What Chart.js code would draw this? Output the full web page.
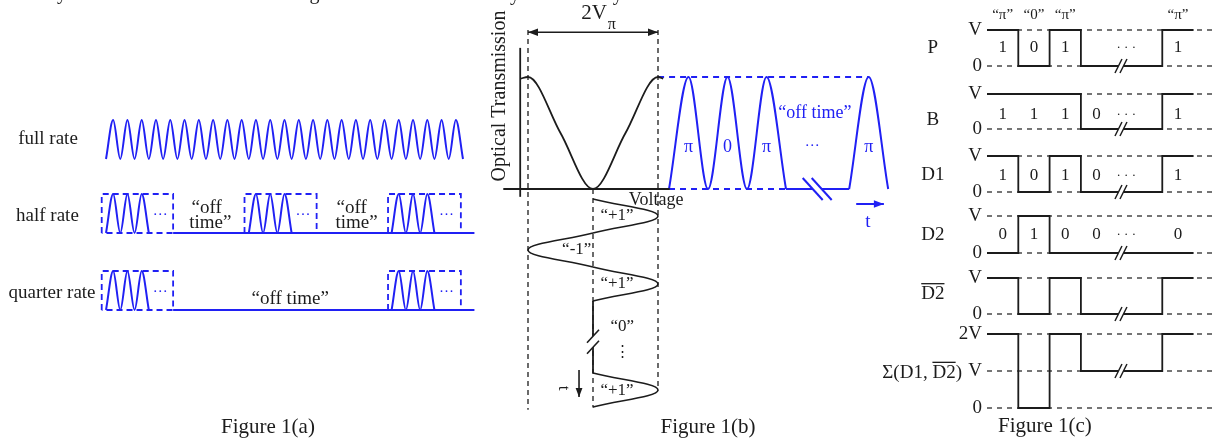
<!DOCTYPE html>
<html>
<head>
<meta charset="utf-8">
<title>Figure 1</title>
<script src="https://cdn.jsdelivr.net/npm/chart.js@4.4.1/dist/chart.umd.min.js"></script>
<style>
  html, body { margin: 0; padding: 0; background: #fff; }
  body { width: 1214px; height: 441px; position: relative; overflow: hidden; }
  canvas { position: absolute; top: 0; }
</style>
</head>
<body>
<canvas id="panelA"></canvas>
<canvas id="panelB"></canvas>
<canvas id="panelC"></canvas>
<script>
// ---------- values ----------

// Figure 1(a): pulse start times, in bit periods
const fullRatePulses = [0, 1, 2, 3, 4, 5, 6, 7, 8, 9, 10, 11, 12, 13, 14, 15, 16, 17, 18, 19, 20, 21, 22, 23, 24];
const halfRatePulses = [0, 1, 2, 10, 11, 12, 20, 21, 22];
const quarterRatePulses = [0, 1, 2, 20, 21, 22];
const halfRateWindows = [[-0.3, 4.7], [9.7, 14.75], [19.75, 24.85]];
const quarterRateWindows = [[-0.3, 4.7], [19.75, 24.85]];
const baselineSpan = [4.7, 25.8];

// Figure 1(b): modulator transfer curve (voltage in units of Vpi)
const transferVolts = [-1.12, -1, -0.5, 0, 0.5, 1, 1.08];
const transferLevels = [0.985, 1, 0.5, 0, 0.5, 1, 0.985];
// optical output pulses (time in pulse slots)
const outputPulses = [0, 1, 2, 4.62];
const outputPhases = ["π", "0", "π", "π"];
// drive voltage, time running downwards
const driveSlots = [0, 1, 2, 3, 5.12];
const driveSymbols = [1, -1, 1, 0, 1];
const driveLabels = ["“+1”", "“-1”", "“+1”", "“0”", "“+1”"];

// Figure 1(c): slot edges and levels of every trace
const slotEdges = [0, 1, 2, 3, 5.6, 6.6];
const phaseMarks = ["“π”", "“0”", "“π”", "", "“π”"];
const levelsP = [1, 0, 1, 0, 1];
const levelsB = [1, 1, 1, 0, 1];
const levelsD1 = [1, 0, 1, 0, 1];
const levelsD2 = [0, 1, 0, 0, 0];
const levelsD2bar = [1, 0, 1, 0, 1];
const levelsSum = [2, 0, 2, 1, 2];
const bitsP = ["1", "0", "1", "", "1"];
const bitsB = ["1", "1", "1", "0", "1"];
const bitsD1 = ["1", "0", "1", "0", "1"];
const bitsD2 = ["0", "1", "0", "0", "0"];

// ---------- drawing setup ----------
const FONT = "'Liberation Serif', 'Times New Roman', serif";
const BLUE = "#2020f4";
const INK = "#1c1c1c";
const PAGE_H = 441;

// scale range so that value v0 lands on pixel p0 and v1 on p1
function fit(v0, p0, v1, p1, start, end) {
  const k = (p1 - p0) / (v1 - v0);
  const a = v0 + (start - p0) / k;
  const b = v0 + (end - p0) / k;
  return { min: Math.min(a, b), max: Math.max(a, b) };
}

function scale(axis, range, extra) {
  return Object.assign({ type: "linear", axis: axis, display: false, bounds: "data", min: range.min, max: range.max }, extra);
}

function line(points, xAxisID, yAxisID, style) {
  return Object.assign({
    data: points, xAxisID: xAxisID, yAxisID: yAxisID,
    pointRadius: 0, borderWidth: 1.6, borderColor: INK, fill: false, tension: 0, clip: false
  }, style);
}

// back-to-back pulses are joined into one run
function pulseRuns(starts) {
  const runs = [];
  starts.forEach((s) => {
    const run = runs[runs.length - 1];
    if (run && Math.abs(run.end - s) < 1e-6) {
      run.pts.push({ x: s + 0.5, y: 1 }, { x: s + 1, y: 0 });
      run.end = s + 1;
    } else {
      runs.push({ end: s + 1, pts: [{ x: s, y: 0 }, { x: s + 0.5, y: 1 }, { x: s + 1, y: 0 }] });
    }
  });
  return runs.map((r) => r.pts);
}

function box(w) {
  return [{ x: w[0], y: 0 }, { x: w[0], y: 1 }, { x: w[1], y: 1 }, { x: w[1], y: 0 }, { x: w[0], y: 0 }];
}

const decor = {};

function arrowHead(ctx, x1, y1, x2, y2, size) {
  const a = Math.atan2(y2 - y1, x2 - x1);
  ctx.beginPath();
  ctx.moveTo(x2, y2);
  ctx.lineTo(x2 - size * Math.cos(a) - size * 0.38 * Math.sin(a), y2 - size * Math.sin(a) + size * 0.38 * Math.cos(a));
  ctx.lineTo(x2 - size * Math.cos(a) + size * 0.38 * Math.sin(a), y2 - size * Math.sin(a) - size * 0.38 * Math.cos(a));
  ctx.closePath();
  ctx.fill();
}

const decorPlugin = {
  id: "decor",
  afterDatasetsDraw(chart) {
    const d = decor[chart.canvas.id];
    if (!d) return;
    const ctx = chart.ctx;
    const at = (o, x, y) => [chart.scales[o.xAxis].getPixelForValue(x), chart.scales[o.yAxis].getPixelForValue(y)];

    // axis breaks: two parallel strokes with the line cleared between them
    (d.breaks || []).forEach((b) => {
      const [cx, cy] = at(b, b.x, b.y);
      const ox = b.dir === "h" ? b.gap / 2 : 0;
      const oy = b.dir === "h" ? 0 : b.gap / 2;
      const s1 = [[cx - ox - b.dx, cy - oy - b.dy], [cx - ox + b.dx, cy - oy + b.dy]];
      const s2 = [[cx + ox - b.dx, cy + oy - b.dy], [cx + ox + b.dx, cy + oy + b.dy]];
      ctx.save();
      ctx.fillStyle = "#fff";
      ctx.beginPath();
      ctx.moveTo(s1[0][0], s1[0][1]);
      ctx.lineTo(s1[1][0], s1[1][1]);
      ctx.lineTo(s2[1][0], s2[1][1]);
      ctx.lineTo(s2[0][0], s2[0][1]);
      ctx.closePath();
      ctx.fill();
      ctx.strokeStyle = b.color;
      ctx.lineWidth = b.width;
      [s1, s2].forEach((s) => {
        ctx.beginPath();
        ctx.moveTo(s[0][0], s[0][1]);
        ctx.lineTo(s[1][0], s[1][1]);
        ctx.stroke();
      });
      ctx.restore();
    });

    (d.arrows || []).forEach((a) => {
      const [x1, y1] = at(a, a.x1, a.y1);
      const [x2, y2] = at(a, a.x2, a.y2);
      ctx.save();
      ctx.strokeStyle = a.color;
      ctx.fillStyle = a.color;
      ctx.lineWidth = a.width;
      ctx.beginPath();
      ctx.moveTo(x1, y1);
      ctx.lineTo(x2, y2);
      ctx.stroke();
      arrowHead(ctx, x1, y1, x2, y2, a.size);
      if (a.both) arrowHead(ctx, x2, y2, x1, y1, a.size);
      ctx.restore();
    });

    (d.texts || []).forEach((t) => {
      const [x, y] = at(t, t.x, t.y);
      ctx.save();
      ctx.font = (t.size || 19) + "px " + FONT;
      ctx.fillStyle = t.color || INK;
      ctx.textAlign = t.align || "center";
      ctx.textBaseline = t.baseline || "middle";
      ctx.translate(x, y);
      if (t.rotate) ctx.rotate((t.rotate * Math.PI) / 180);
      ctx.fillText(t.text, 0, 0);
      if (t.over) {
        const w = ctx.measureText(t.text).width;
        const left = ctx.textAlign === "right" ? -w : ctx.textAlign === "center" ? -w / 2 : 0;
        const a = left + ctx.measureText(t.text.slice(0, t.over[0])).width;
        const b = left + ctx.measureText(t.text.slice(0, t.over[1])).width;
        const top = -ctx.measureText("D").actualBoundingBoxAscent - 2.5;
        ctx.strokeStyle = t.color || INK;
        ctx.lineWidth = 1.3;
        ctx.beginPath();
        ctx.moveTo(a, top);
        ctx.lineTo(b, top);
        ctx.stroke();
      }
      ctx.restore();
    });
  }
};

function makeChart(id, left, width, scales, datasets, notes) {
  const canvas = document.getElementById(id);
  canvas.width = width;
  canvas.height = PAGE_H;
  canvas.style.left = left + "px";
  decor[id] = notes;
  return new Chart(canvas, {
    type: "line",
    data: { datasets: datasets },
    options: {
      responsive: false,
      animation: false,
      devicePixelRatio: 1,
      events: [],
      layout: { autoPadding: false, padding: 0 },
      plugins: { legend: { display: false }, tooltip: { enabled: false } },
      scales: scales
    },
    plugins: [decorPlugin]
  });
}

// ---------- Figure 1(a) ----------
(function () {
  const L = 0, W = 480;
  const scales = {
    xa: scale("x", fit(0, 106, 25, 463, L, L + W)),
    yFull: scale("y", fit(0, 159, 1, 120, 0, PAGE_H)),
    yHalf: scale("y", fit(0, 233, 1, 194, 0, PAGE_H)),
    yQuarter: scale("y", fit(0, 310, 1, 271, 0, PAGE_H))
  };
  const wave = { borderColor: BLUE, borderWidth: 2, cubicInterpolationMode: "monotone" };
  const dashBox = { borderColor: BLUE, borderWidth: 1.8, borderDash: [6, 4] };
  const ds = [];
  pulseRuns(fullRatePulses).forEach((p) => ds.push(line(p, "xa", "yFull", wave)));
  [["yHalf", halfRatePulses, halfRateWindows], ["yQuarter", quarterRatePulses, quarterRateWindows]].forEach(([ax, pulses, wins]) => {
    pulseRuns(pulses).forEach((p) => ds.push(line(p, "xa", ax, wave)));
    wins.forEach((w) => ds.push(line(box(w), "xa", ax, dashBox)));
    ds.push(line([{ x: baselineSpan[0], y: 0 }, { x: baselineSpan[1], y: 0 }], "xa", ax, { borderColor: BLUE, borderWidth: 2 }));
  });

  const t = (text, x, y, yAxis, extra) => Object.assign({ text: text, x: x, y: y, xAxis: "xa", yAxis: yAxis }, extra);
  const texts = [
    t("full rate", -4.06, 0.5, "yFull"),
    t("half rate", -4.1, 0.44, "yHalf"),
    t("quarter rate", -3.78, 0.44, "yQuarter"),
    t("“off", 7.05, 0.64, "yHalf"),
    t("time”", 7.3, 0.26, "yHalf"),
    t("“off", 17.2, 0.64, "yHalf"),
    t("time”", 17.55, 0.26, "yHalf"),
    t("“off time”", 12.9, 0.28, "yQuarter"),
    t("Figure 1(a)", 11.34, -3.0, "yQuarter", { size: 21 }),
    t("y", -3.08, 4.09, "yFull", { baseline: "alphabetic", size: 20 }),
    t("g", 14.6, 4.09, "yFull", { baseline: "alphabetic", size: 20 })
  ];
  halfRateWindows.forEach((w) => texts.push(t("···", w[0] + 4.1, 0.46, "yHalf", { color: BLUE, size: 15 })));
  quarterRateWindows.forEach((w) => texts.push(t("···", w[0] + 4.1, 0.45, "yQuarter", { color: BLUE, size: 15 })));

  makeChart("panelA", L, W, scales, ds, { texts: texts });
})();

// ---------- Figure 1(b) ----------
(function () {
  const L = 480, W = 420;
  const scales = {
    xV: scale("x", fit(-1, 528, 1, 658, L, L + W)),
    xt: scale("x", fit(0, 669, 1, 708, L, L + W)),
    yT: scale("y", fit(0, 189, 1, 77, 0, PAGE_H)),
    yd: scale("y", fit(0, 199, 1, 233, 0, PAGE_H), { reverse: true })
  };
  const guide = { borderWidth: 1.3, borderDash: [5, 4] };
  const ds = [
    line([{ x: -1.12, y: -0.07 }, { x: -1.12, y: 1.26 }], "xV", "yT", { borderWidth: 1.8 }),
    line([{ x: -1.38, y: 0 }, { x: 1.18, y: 0 }], "xV", "yT", { borderWidth: 1.8 }),
    line([{ x: -1, y: 1.42 }, { x: -1, y: -1.97 }], "xV", "yT", guide),
    line([{ x: 1, y: 1.42 }, { x: 1, y: -1.8 }], "xV", "yT", guide),
    line([{ x: 0, y: 0 }, { x: 0, y: -1.95 }], "xV", "yT", guide),
    line(transferVolts.map((v, i) => ({ x: v, y: transferLevels[i] })), "xV", "yT", { borderWidth: 1.8, cubicInterpolationMode: "monotone" }),
    line([{ x: -0.28, y: 1 }, { x: 5.12, y: 1 }], "xt", "yT", { borderColor: BLUE, borderWidth: 1.8, borderDash: [6, 5] }),
    line([{ x: 0, y: 0 }, { x: 3, y: 0 }], "xt", "yT", { borderColor: BLUE, borderWidth: 1.8, borderDash: [6, 5] }),
    line([{ x: 3, y: 0 }, { x: outputPulses[3], y: 0 }], "xt", "yT", { borderColor: BLUE, borderWidth: 2 })
  ];
  pulseRuns(outputPulses).forEach((p) =>
    ds.push(line(p, "xt", "yT", { borderColor: BLUE, borderWidth: 2, cubicInterpolationMode: "monotone" }))
  );
  driveSymbols.forEach((s, i) => {
    const a = driveSlots[i];
    if (s === 0) {
      ds.push(line([{ x: 0, y: a }, { x: 0, y: driveSlots[i + 1] }], "xV", "yd", { borderWidth: 1.8 }));
    } else {
      ds.push(line([{ x: 0, y: a }, { x: s, y: a + 0.5 }, { x: 0, y: a + 1 }], "xV", "yd", { borderWidth: 1.6, tension: 0.4 }));
    }
  });

  const tT = (text, x, y, extra) => Object.assign({ text: text, x: x, y: y, xAxis: "xV", yAxis: "yT" }, extra);
  const tt = (text, x, y, extra) => Object.assign({ text: text, x: x, y: y, xAxis: "xt", yAxis: "yT", color: BLUE, size: 18 }, extra);
  const td = (text, x, y, extra) => Object.assign({ text: text, x: x, y: y, xAxis: "xV", yAxis: "yd", size: 17 }, extra);
  const texts = [
    tT("Optical Transmission", -1.43, 0.83, { rotate: -90, size: 20 }),
    tT("2V", 0.215, 1.57, { align: "right", size: 21 }),
    tT("π", 0.225, 1.47, { align: "left", size: 16 }),
    tT("Voltage", 0.97, -0.1, { size: 18 }),
    tT("y", -1.2, 1.69, { baseline: "alphabetic", size: 20 }),
    tT("y", 0.38, 1.69, { baseline: "alphabetic", size: 20 }),
    tt("···", 3.67, 0.38, { size: 15 }),
    tt("“off time”", 3.74, 0.68),
    tt("t", 5.1, -0.295, { size: 19 }),
    td("⋮", 0.45, 4.5, { size: 15 }),
    td("t", -0.45, 5.56, { rotate: 90 }),
    td("Figure 1(b)", 1.77, 6.71, { size: 21 })
  ];
  outputPulses.forEach((p, i) => texts.push(tt(outputPhases[i], p + 0.5, 0.37)));
  driveSymbols.forEach((s, i) => {
    const a = driveSlots[i];
    if (s > 0) texts.push(td(driveLabels[i], 0.37, a + 0.5));
    else if (s < 0) texts.push(td(driveLabels[i], -0.25, a + 0.5));
    else texts.push(td(driveLabels[i], 0.45, a + 0.76));
  });

  const arrows = [
    { x1: -1, y1: 1.4, x2: 1, y2: 1.4, xAxis: "xV", yAxis: "yT", both: true, size: 10, width: 1.6, color: INK },
    { x1: 4.8, y1: -0.134, x2: 5.51, y2: -0.134, xAxis: "xt", yAxis: "yT", size: 10, width: 2, color: BLUE },
    { x1: -0.215, y1: 5.03, x2: -0.215, y2: 5.82, xAxis: "xV", yAxis: "yd", size: 9, width: 1.6, color: INK }
  ];
  const breaks = [
    { x: 3.8, y: 0, xAxis: "xt", yAxis: "yT", dir: "h", dx: 10, dy: 11, gap: 9, color: BLUE, width: 2 },
    { x: 0, y: 4.2, xAxis: "xV", yAxis: "yd", dir: "v", dx: 6, dy: -6.5, gap: 11, color: INK, width: 1.6 }
  ];

  makeChart("panelB", L, W, scales, ds, { texts: texts, arrows: arrows, breaks: breaks });
})();

// ---------- Figure 1(c) ----------
(function () {
  const L = 850, W = 364;
  const rows = [
    { id: "yP", name: "P", levels: levelsP, bits: bitsP, ticks: ["0", "V"], px: [66, 30], nameAt: 0.5, bitAt: 0.5 },
    { id: "yB", name: "B", levels: levelsB, bits: bitsB, ticks: ["0", "V"], px: [129, 94], nameAt: 0.26, bitAt: 0.4 },
    { id: "yD1", name: "D1", levels: levelsD1, bits: bitsD1, ticks: ["0", "V"], px: [192, 156], nameAt: 0.47, bitAt: 0.47 },
    { id: "yD2", name: "D2", levels: levelsD2, bits: bitsD2, ticks: ["0", "V"], px: [253, 216], nameAt: 0.49, bitAt: 0.49 },
    { id: "yD2b", name: "D2", over: [0, 2], levels: levelsD2bar, ticks: ["0", "V"], px: [314, 278], nameAt: 0.55 },
    { id: "ySum", name: "Σ(D1, D2)", over: [6, 8], levels: levelsSum, ticks: ["0", "V", "2V"], px: [408, 371], nameAt: 0.95 }
  ];
  const scales = { xs: scale("x", fit(0, 987, 1, 1018.3, L, L + W)) };
  const ds = [];
  const texts = [];
  const breaks = [];
  const t = (text, x, y, yAxis, extra) => Object.assign({ text: text, x: x, y: y, xAxis: "xs", yAxis: yAxis }, extra);

  rows.forEach((r) => {
    scales[r.id] = scale("y", fit(0, r.px[0], 1, r.px[1], 0, PAGE_H));
    r.ticks.forEach((label, lv) => {
      ds.push(line([{ x: 0, y: lv }, { x: 7.3, y: lv }], "xs", r.id, { borderWidth: 1.2, borderDash: [5, 5] }));
      texts.push(t(label, -0.16, lv, r.id, { align: "right", size: 19 }));
    });
    ds.push(line(slotEdges.map((e, i) => ({ x: e, y: r.levels[Math.min(i, r.levels.length - 1)] })), "xs", r.id, { borderWidth: 1.8, stepped: "before" }));
    breaks.push({ x: 4.28, y: r.levels[3], xAxis: "xs", yAxis: r.id, dir: "h", dx: 3.5, dy: -7, gap: 5, color: INK, width: 1.5 });
    if (r.id === "ySum") texts.push(t(r.name, -0.8, r.nameAt, r.id, { align: "right", over: r.over }));
    else texts.push(t(r.name, -1.73, r.nameAt, r.id, { over: r.over }));
    if (r.bits) {
      r.bits.forEach((b, i) => { if (b) texts.push(t(b, slotEdges[i] + 0.5, r.bitAt, r.id, { size: 17 })); });
      texts.push(t("· · ·", 4.45, r.bitAt, r.id, { size: 13 }));
    }
  });
  phaseMarks.forEach((m, i) => { if (m) texts.push(t(m, slotEdges[i] + 0.5, 1.42, "yP", { size: 15 })); });
  texts.push(t("Figure 1(c)", 1.85, -0.51, "ySum", { size: 21 }));

  makeChart("panelC", L, W, scales, ds, { texts: texts, breaks: breaks });
})();
</script>
</body>
</html>
